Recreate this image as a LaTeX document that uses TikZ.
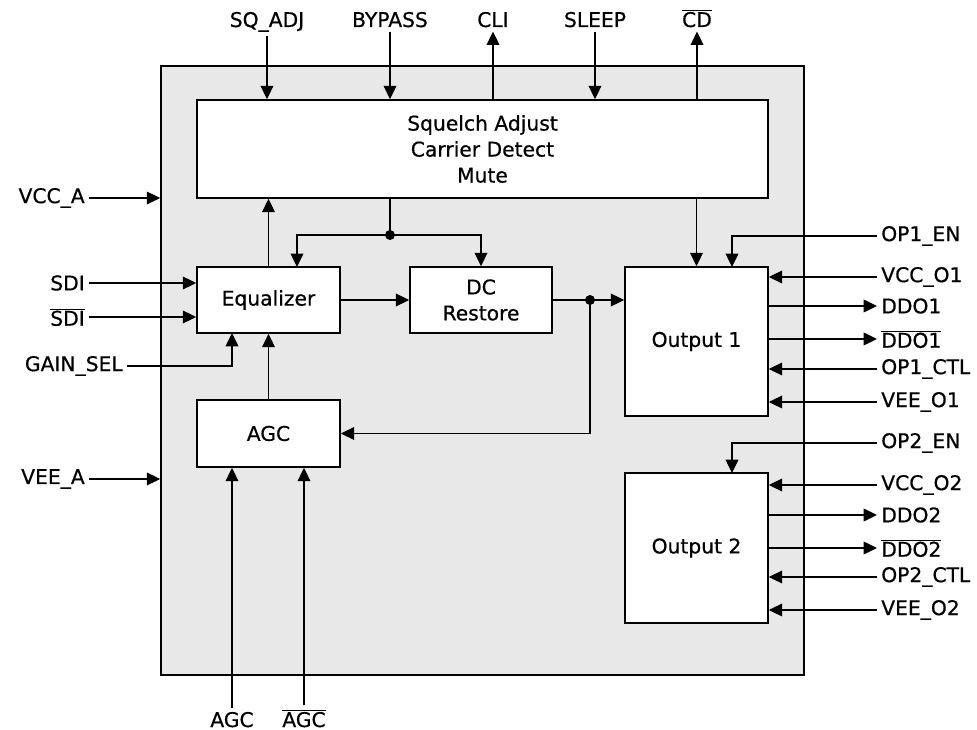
\documentclass[tikz,border=0pt]{standalone}
\usepackage{fontspec}
\setmainfont[FakeBold=0.6]{DejaVu Sans}
\usetikzlibrary{arrows.meta,fit,calc}
\newcommand\ovl[1]{$\overline{\mbox{#1}}$}
\begin{document}
\begin{tikzpicture}[x=0.75pt,y=-0.75pt,
  font=\fontsize{15.2}{19.5}\selectfont,
  blk/.style={draw,line width=1.2pt,fill=white,inner sep=0pt},
  arr/.style={line width=1.05pt,-{Triangle[length=10pt,width=9.5pt]}},
  wire/.style={line width=1.05pt},
  dotc/.style={circle,fill=black,inner sep=0pt,minimum size=7.5pt},
  lbl/.style={inner sep=3pt}]
\useasboundingbox (0,0) rectangle (977,730);
% outer chip
\node[draw,line width=1.2pt,fill=gray!18,inner sep=0pt,fit={(161,66)(804,675)}] (chip) {};
% blocks
\node[blk,fit={(197,100)(768,198)}] (sq) {};
\node[align=center] at (sq.center) {Squelch Adjust\\Carrier Detect\\Mute};
\node[blk,fit={(197,267)(340,333)}] (eq) {};
\node at (eq.center) {Equalizer};
\node[blk,fit={(410,267)(552,333)}] (dc) {};
\node[align=center] at (dc.center) {DC\\Restore};
\node[blk,fit={(625,267)(768,416)}] (o1) {};
\node at (o1.center) {Output 1};
\node[blk,fit={(197,400)(340,467)}] (agc) {};
\node at (agc.center) {AGC};
\node[blk,fit={(625,473)(768,623)}] (o2) {};
\node at (o2.center) {Output 2};
% top labels
\node[lbl,anchor=base] (sqadj) at (267,27) {SQ\_ADJ};
\node[lbl,anchor=base] (byp) at (390,27) {BYPASS};
\node[lbl,anchor=base] (cli) at (493,27) {CLI};
\node[lbl,anchor=base] (slp) at (595,27) {SLEEP};
\node[lbl,anchor=base] (cd) at (697,27) {\ovl{CD}};
\draw[arr] (sqadj.south) -- (sqadj.south |- sq.north);
\draw[arr] (byp.south) -- (byp.south |- sq.north);
\draw[arr] (cli.south |- sq.north) -- (cli.south);
\draw[arr] (slp.south) -- (slp.south |- sq.north);
\draw[arr] (cd.south |- sq.north) -- (cd.south);
% left labels
\node[lbl,anchor=east] (vcca) at (89,198) {VCC\_A};
\node[lbl,anchor=east] (sdi) at (89,283) {SDI};
\node[lbl,anchor=east] (sdin) at (89,317) {\ovl{SDI}};
\node[lbl,anchor=east] (gain) at (127,366) {GAIN\_SEL};
\node[lbl,anchor=east] (veea) at (89,479) {VEE\_A};
\draw[arr] (vcca.east) -- (vcca.east -| chip.west);
\draw[arr] (veea.east) -- (veea.east -| chip.west);
\draw[arr] (sdi.east) -- (sdi.east -| eq.west);
\draw[arr] (sdin.east) -- (sdin.east -| eq.west);
\coordinate (gin) at (232,333);
\draw[arr] (gain.east) -| (gin);
% bottom labels
\node[lbl,anchor=base] (agcp) at (232,727) {AGC};
\node[lbl,anchor=base] (agcn) at (304,727) {\ovl{AGC}};
\draw[arr] (agcp.north) -- (agcp.north |- agc.south);
\draw[arr] (agcn.north) -- (agcn.north |- agc.south);
% internal
\draw[arr] (eq.north) -- (eq.north |- sq.south);
\draw[arr] (agc.north) -- (eq.south);
\coordinate (j1) at (390,235);
\coordinate (eqin) at (297,267);
\draw[wire] (sq.south -| j1) -- (j1);
\draw[arr] (j1) -| (eqin);
\draw[arr] (j1) -| (dc.north);
\node[dotc] at (j1) {};
\draw[arr] (eq.east) -- (dc.west);
\coordinate (j2) at (590,300);
\draw[arr] (dc.east) -- (dc.east -| o1.west);
\draw[arr] (j2) |- (agc.east);
\node[dotc] at (j2) {};
\draw[arr] (sq.south -| o1.north) -- (o1.north);
% right side output 1
\node[lbl,anchor=west] (op1en) at (877,236) {OP1\_EN};
\node[lbl,anchor=west] (vcco1) at (877,277) {VCC\_O1};
\node[lbl,anchor=west] (ddo1) at (877,306) {DDO1};
\node[lbl,anchor=west] (ddo1n) at (877,339) {\ovl{DDO1}};
\node[lbl,anchor=west] (op1c) at (877,369) {OP1\_CTL};
\node[lbl,anchor=west] (veeo1) at (877,402) {VEE\_O1};
\coordinate (o1en) at (732,267);
\draw[arr] (op1en.west) -| (o1en);
\draw[arr] (vcco1.west) -- (vcco1.west -| o1.east);
\draw[arr] (ddo1.west -| o1.east) -- (ddo1.west);
\draw[arr] (ddo1n.west -| o1.east) -- (ddo1n.west);
\draw[arr] (op1c.west) -- (op1c.west -| o1.east);
\draw[arr] (veeo1.west) -- (veeo1.west -| o1.east);
% right side output 2
\node[lbl,anchor=west] (op2en) at (877,443) {OP2\_EN};
\node[lbl,anchor=west] (vcco2) at (877,485) {VCC\_O2};
\node[lbl,anchor=west] (ddo2) at (877,515) {DDO2};
\node[lbl,anchor=west] (ddo2n) at (877,548) {\ovl{DDO2}};
\node[lbl,anchor=west] (op2c) at (877,577) {OP2\_CTL};
\node[lbl,anchor=west] (veeo2) at (877,610) {VEE\_O2};
\coordinate (o2en) at (732,473);
\draw[arr] (op2en.west) -| (o2en);
\draw[arr] (vcco2.west) -- (vcco2.west -| o2.east);
\draw[arr] (ddo2.west -| o2.east) -- (ddo2.west);
\draw[arr] (ddo2n.west -| o2.east) -- (ddo2n.west);
\draw[arr] (op2c.west) -- (op2c.west -| o2.east);
\draw[arr] (veeo2.west) -- (veeo2.west -| o2.east);
\end{tikzpicture}
\end{document}
